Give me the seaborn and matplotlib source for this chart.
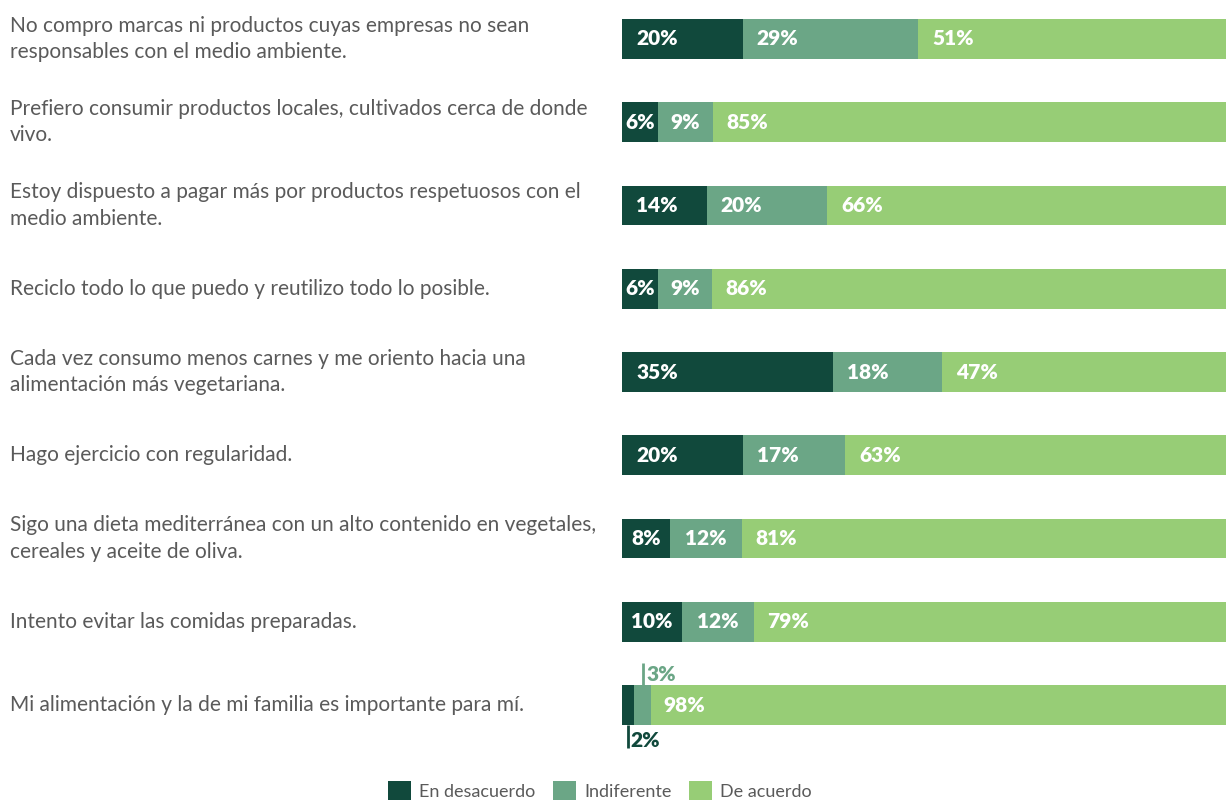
import numpy as np
import matplotlib
matplotlib.use("Agg")
import matplotlib.pyplot as plt
import matplotlib.transforms as mtransforms
from matplotlib.patches import Patch
import seaborn as sns

# Data
statements = [
    "No compro marcas ni productos cuyas empresas no sean\nresponsables con el medio ambiente.",
    "Prefiero consumir productos locales, cultivados cerca de donde\nvivo.",
    "Estoy dispuesto a pagar más por productos respetuosos con el\nmedio ambiente.",
    "Reciclo todo lo que puedo y reutilizo todo lo posible.",
    "Cada vez consumo menos carnes y me oriento hacia una\nalimentación más vegetariana.",
    "Hago ejercicio con regularidad.",
    "Sigo una dieta mediterránea con un alto contenido en vegetales,\ncereales y aceite de oliva.",
    "Intento evitar las comidas preparadas.",
    "Mi alimentación y la de mi familia es importante para mí.",
]
desacuerdo = [20, 6, 14, 6, 35, 20, 8, 10, 2]
indiferente = [29, 9, 20, 9, 18, 17, 12, 12, 3]
de_acuerdo = [51, 85, 66, 86, 47, 63, 81, 79, 98]
series_names = ["En desacuerdo", "Indiferente", "De acuerdo"]

COLORS = ["#11493c", "#6ba686", "#97cd76"]
TEXT_GRAY = "#5a5a5a"

sns.set_style("white")
plt.rcParams["font.family"] = ["Lato", "DejaVu Sans"]

W, H = 1226, 800
fig = plt.figure(figsize=(W / 100, H / 100), dpi=100)
ax = fig.add_axes([622 / W, 75 / H, 604 / W, 706 / H])

# normalise each row to its total (rounded values may not add to 100)
d = np.array(desacuerdo, float)
m = np.array(indiferente, float)
a = np.array(de_acuerdo, float)
tot = d + m + a
d_n, m_n, a_n = d / tot, m / tot, a / tot
ypos = np.arange(len(statements))

# stacked layers, drawn from the full length down
layers = [d_n + m_n + a_n, d_n + m_n, d_n]
for vals, col in zip(layers, COLORS[::-1]):
    sns.barplot(x=vals, y=ypos, orient="h", native_scale=True, width=0.48,
                color=col, linewidth=0, saturation=1, ax=ax)

ax.set_xlim(0, 1)
ax.set_ylim(len(statements) - 1 + 0.24, -0.24)
ax.axis("off")

PCT = dict(fontsize=15, fontweight="heavy", va="center")
px = 1 / 604  # one pixel in data units
for i in range(len(statements)):
    starts = [0, d_n[i], d_n[i] + m_n[i]]
    widths = [d_n[i], m_n[i], a_n[i]]
    raw = [desacuerdo[i], indiferente[i], de_acuerdo[i]]
    if i == len(statements) - 1:
        # small segments labelled outside the bar
        x0 = starts[0] + widths[0] / 2
        ax.plot([x0, x0], [i + 0.24, i + 0.52], color=COLORS[0], lw=2,
                solid_capstyle="butt", clip_on=False)
        ax.text(x0 + 3 * px, i + 0.43, f"{raw[0]}%", color=COLORS[0], ha="left",
                clip_on=False, **PCT)
        x1 = starts[1] + widths[1] / 2
        ax.plot([x1, x1], [i - 0.24, i - 0.50], color=COLORS[1], lw=2,
                solid_capstyle="butt", clip_on=False)
        ax.text(x1 + 4 * px, i - 0.37, f"{raw[1]}%", color=COLORS[1], ha="left",
                clip_on=False, **PCT)
        ax.text(starts[2] + 12 * px, i, f"{raw[2]}%", color="white", ha="left", **PCT)
        continue
    for s, w, v in zip(starts, widths, raw):
        if w * 604 > 75:
            ax.text(s + 14 * px, i, f"{v}%", color="white", ha="left", **PCT)
        else:
            ax.text(s + w / 2, i, f"{v}%", color="white", ha="center", **PCT)

# statement labels on the left
trans = mtransforms.blended_transform_factory(fig.transFigure, ax.transData)
for i, lab in enumerate(statements):
    ax.text(10 / W, i, lab, transform=trans, ha="left", va="center",
            fontsize=15, color=TEXT_GRAY, linespacing=1.38)

handles = [Patch(facecolor=c, edgecolor="none") for c in COLORS]
fig.legend(handles, series_names, loc="center", bbox_to_anchor=(600 / W, 1 - 791 / H),
           ncol=3, frameon=False, fontsize=13, handlelength=1.25, handleheight=1.25,
           handletextpad=0.45, columnspacing=1.0, labelcolor=TEXT_GRAY)

fig.savefig("out.png", dpi=100)
